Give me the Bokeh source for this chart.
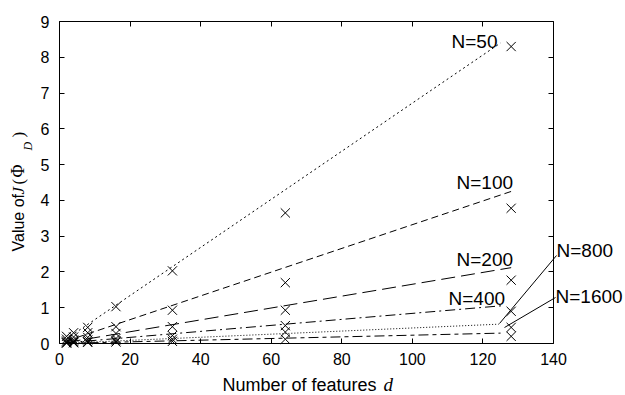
import math
from bokeh.plotting import figure
from bokeh.models import (ColumnDataSource, FixedTicker, LinearAxis, Label, Arrow, Range1d)
from bokeh.embed import file_html
from bokeh.resources import INLINE

# ---------------- data ----------------
d_values = [2, 4, 8, 16, 32, 64, 128]
sample_sizes = ["N=50", "N=100", "N=200", "N=400", "N=800", "N=1600"]

J_N50 = [0.20, 0.30, 0.45, 1.03, 2.03, 3.65, 8.30]
J_N100 = [0.12, 0.18, 0.30, 0.47, 0.93, 1.70, 3.78]
J_N200 = [0.07, 0.10, 0.17, 0.28, 0.47, 0.93, 1.77]
J_N400 = [0.04, 0.06, 0.10, 0.14, 0.22, 0.50, 0.90]
J_N800 = [0.02, 0.03, 0.05, 0.08, 0.12, 0.32, 0.45]
J_N1600 = [0.01, 0.02, 0.03, 0.04, 0.06, 0.12, 0.20]

# theoretical straight lines: start/end points
line_x_start = [2, 2, 2, 2, 2, 2]
line_y_start = [0.13, 0.07, 0.03, 0.02, 0.01, 0.005]
line_x_end = [125, 128, 128, 126, 124.5, 125]
line_y_end = [8.4, 4.25, 2.12, 1.06, 0.54, 0.29]

x_ticks = [0, 20, 40, 60, 80, 100, 120, 140]
y_ticks = [0, 1, 2, 3, 4, 5, 6, 7, 8, 9]

# ---------------- layout ----------------
W, H = 625, 395
FL, FR, FT, FB = 59, 553, 21, 343   # axes box in canvas px
XMIN, XMAX, YMIN, YMAX = 0, 140, 0, 9
sx = (XMAX - XMIN) / (FR - FL)
sy = (YMAX - YMIN) / (FB - FT)


def px2x(X):
    return XMIN + (X - FL) * sx


def py2y(Y):
    return YMIN + (FB - Y) * sy


def mid(base, size):
    # centre line of a text box lies ~0.35 em above its baseline
    return base - 0.35 * size


# the plotting frame spans the whole canvas; the axes box is drawn with
# fixed-location axes so that outside texts are not clipped
p = figure(width=W, height=H, output_backend="svg", toolbar_location=None,
           x_range=Range1d(px2x(0), px2x(W)), y_range=Range1d(py2y(H), py2y(0)),
           min_border=0, x_axis_location=None, y_axis_location=None)
p.grid.visible = False
p.background_fill_color = "white"
p.border_fill_color = "white"
p.outline_line_color = None

TICK_FONT = "Liberation Sans"


def make_axis(ticks, loc, bounds, show_labels, standoff):
    ax = LinearAxis(ticker=FixedTicker(ticks=ticks), fixed_location=loc, bounds=bounds)
    ax.major_tick_in = 5
    ax.major_tick_out = 0
    ax.minor_tick_line_color = None
    ax.axis_line_color = "black"
    ax.axis_line_width = 1
    ax.major_tick_line_color = "black"
    ax.major_label_text_font = TICK_FONT
    ax.major_label_text_font_size = "16px"
    ax.major_label_text_color = "black" if show_labels else None
    ax.major_label_standoff = standoff
    return ax


p.add_layout(make_axis(x_ticks, YMIN, (XMIN, XMAX), True, 9), "below")
p.add_layout(make_axis(y_ticks, XMIN, (YMIN, YMAX), True, 10), "left")
p.add_layout(make_axis(x_ticks, YMAX, (XMIN, XMAX), False, 0), "above")
p.add_layout(make_axis(y_ticks, XMAX, (YMIN, YMAX), False, 0), "right")

# ---------------- theoretical lines ----------------
dashes = ["2 3", "7 4", "14 6", "10 4 2 4", "1 2", "10 4 4 4"]
for i in range(len(sample_sizes)):
    p.line([line_x_start[i], line_x_end[i]], [line_y_start[i], line_y_end[i]],
           line_color="black", line_width=1, line_dash=dashes[i])

# ---------------- experimental points ----------------
for series in [J_N50, J_N100, J_N200, J_N400, J_N800, J_N1600]:
    src = ColumnDataSource(dict(d=d_values, j=series))
    p.scatter("d", "j", source=src, marker="x", size=13,
              line_color="black", line_width=1)

# ---------------- curve labels ----------------
LBL_FONT = "Liberation Sans"
LBL_SIZE = 19
# (left X px, baseline Y px)
label_pos = [(451, 48), (456, 189), (456, 266), (448, 305), (556, 257), (555, 303)]
for txt, (lx, ly) in zip(sample_sizes, label_pos):
    p.add_layout(Label(x=px2x(lx), y=py2y(mid(ly, LBL_SIZE)), text=txt, text_font=LBL_FONT,
                       text_font_size=f"{LBL_SIZE}px", text_color="black",
                       text_align="left", text_baseline="middle"))

# leader lines for N=800 and N=1600
p.add_layout(Arrow(x_start=px2x(556), y_start=py2y(255), x_end=px2x(499), y_end=py2y(323),
                   end=None, start=None, line_color="black", line_width=1))
p.add_layout(Arrow(x_start=px2x(555), y_start=py2y(297), x_end=px2x(504), y_end=py2y(327),
                   end=None, start=None, line_color="black", line_width=1))

# ---------------- axis titles ----------------
p.add_layout(Label(x=px2x(222), y=py2y(mid(391, 18)), text="Number of features",
                   text_font="Liberation Sans", text_font_size="18px", text_color="black",
                   text_align="left", text_baseline="middle"))
p.add_layout(Label(x=px2x(383), y=py2y(mid(391, 19)), text="d", text_font="Liberation Serif",
                   text_font_style="italic", text_font_size="19px", text_color="black",
                   text_align="left", text_baseline="middle"))

# y: "Value of J (Φ_D)" rotated; (text, font, style, size, baseline X, start Y)
ang = math.pi / 2
ypieces = [
    ("Value of", "Liberation Sans", "normal", 16, 24, 251),
    ("J", "Liberation Serif", "italic", 17, 24, 194),
    ("(", "Liberation Serif", "normal", 17, 24, 184),
    ("Φ", "Liberation Serif", "normal", 18, 24, 177),
    ("D", "Liberation Serif", "italic", 12, 32, 150),
    (")", "Liberation Serif", "normal", 17, 24, 137),
]
for txt, fnt, sty, sz, bx, by in ypieces:
    p.add_layout(Label(x=px2x(bx - 0.35 * sz), y=py2y(by), text=txt, text_font=fnt,
                       text_font_style=sty, text_font_size=f"{sz}px", text_color="black",
                       angle=ang, text_align="left", text_baseline="middle"))

open("out.html", "w").write(file_html(p, INLINE))
